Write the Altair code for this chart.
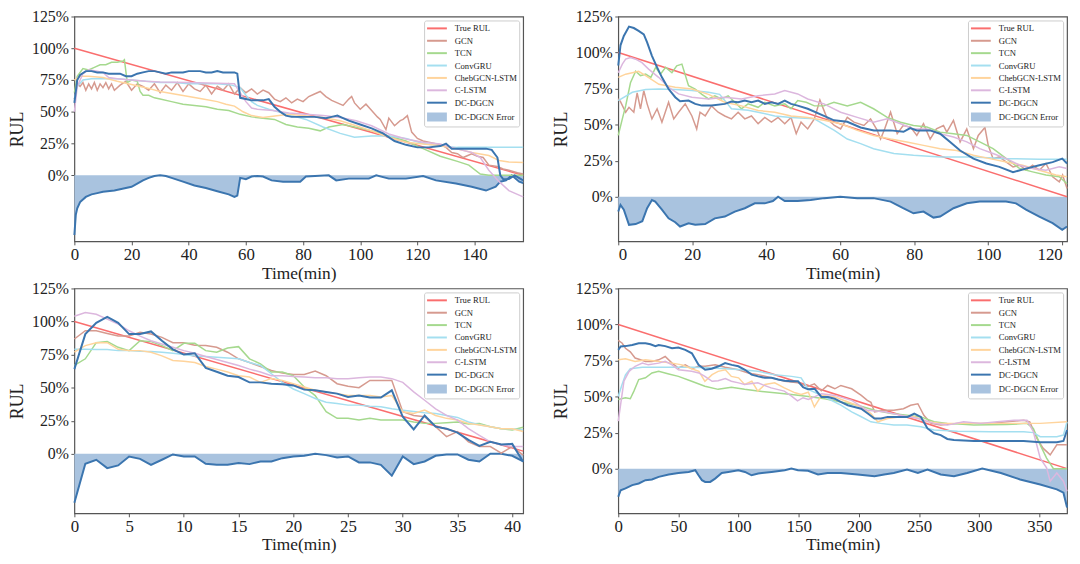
import altair as alt
import pandas as pd

SERIES = ["True RUL", "GCN", "TCN", "ConvGRU", "ChebGCN-LSTM", "C-LSTM", "DC-DGCN", "DC-DGCN Error"]
COLORS = ["#fa6e6e", "#d69a8f", "#a5d98e", "#a4dff0", "#ffd49c", "#dcb7de", "#3b75af", "#a9c3df"]
LINE_SYM = "M-2,0H2"
RECT_SYM = "M-2,-0.7H2M-2,-0.35H2M-2,0H2M-2,0.35H2M-2,0.7H2"
SHAPES = [LINE_SYM] * 7 + [RECT_SYM]
ERR_FILL = "#a9c3df"
DC_BLUE = "#3b75af"
FONT = "Liberation Serif"

# ---------------- Panel 1 ----------------
p1_true = [(0, 100), (157, 0)]
p1_gcn = [(0,60),(1,72),(2,70),(3,73),(4,67),(5,72),(6,68),(7,73),(8,67),(9,72),(10,69),(11,73),(12,68),(13,72),(14,67),(16,71),(18,74),(20,67),(22,72),(24,70),(26,67),(28,72),(30,65),(32,71),(34,67),(36,73),(38,66),(40,72),(42,68),(44,66),(46,71),(48,64),(50,70),(52,67),(54,72),(56,64),(58,69),(60,65),(62,68),(64,64),(66,67),(68,65),(70,60),(72,58),(74,61),(76,57),(78,60),(80,58),(82,62),(84,64),(86,66),(88,62),(90,59),(92,57),(94,55),(96,60),(97,62),(98,57),(100,52),(102,56),(104,51),(106,46),(107,44),(109,36),(110,45),(112,39),(114,43),(115,44),(116.5,47),(118,34),(120,29),(122,27),(124,26),(126,25),(128,24),(130,22),(132,18),(134,17),(136,14),(139,17),(141,15),(143,14),(145,8),(148,7),(150,5),(152,4),(155,2),(157,1)]
p1_tcn = [(0,65),(1,78),(3,84),(5,83),(7,85),(9,87),(11,87),(13,89),(15,89),(17,90),(17.5,91),(18.5,73),(20,75),(22,74),(23,66),(24,63),(26,63),(28,61),(30,60),(34,58),(38,56),(42,55),(46,54),(50,52),(54,51),(58,48),(62,46),(66,45),(70,44),(74,40),(78,38),(82,37),(86,35),(89,38),(94,40),(98,38),(104,35),(110,31),(116,27),(122,21),(128,15),(134,11),(138,8),(142,1),(145,0),(157,0)]
p1_convgru = [(0,60),(1,70),(3,75),(6,76),(10,76),(15,76),(20,75),(25,74),(30,73),(35,73),(40,72),(45,72),(50,72),(55,71),(58,69),(60,63),(62,58),(64,55),(68,52),(73,49),(81,44),(87,38),(93,33),(98,30),(104,31),(110,31),(116,29),(122,25),(128,23),(134,22),(157,22)]
p1_cheb = [(0,75),(2,78),(5,78),(10,77),(15,74),(20,71.5),(25,69),(30,66),(35,64),(40,62),(45,60),(50,58),(53,56),(56,54.5),(59,50),(62,47),(66,45.5),(75,48),(87,45.5),(93,43),(98.6,39),(104,35),(110,30),(116,26),(122,24.7),(127.7,23.4),(133.5,21),(139,18),(145,15.6),(148.6,11.7),(152,10.4),(157,10)]
p1_clstm = [(0,50),(1,70),(3,80),(5,83),(8,82),(10,81),(12,77),(15,76),(20,75),(25,74),(30,73.5),(40,73),(50,72.5),(56,72),(58,65),(60,58),(62,53),(64,52),(69.5,51),(75,49),(87,47),(93,45.5),(98.6,43),(104,39),(110,32.5),(116,28.6),(122,26),(128,24.7),(133.5,21),(139,18),(142,14),(145,4),(148.6,-5),(152,-12),(157,-17)]
p1_dc = [(0,57),(1,75),(2,79),(4,82),(6,82),(8,81),(10,81),(12,80),(14,80),(16,80),(18,78),(20,78),(22,80),(24,81),(26,82),(28,82),(30,81),(32,80),(34,81),(36,81),(38,81),(40,82),(42,82),(44,82),(46,81),(48,81),(50,82),(52,81),(54,81),(56,81),(57,80),(58,61),(60,60),(62,59),(64,59),(66,59),(68,60),(70,54),(72,50),(74,47),(76,46),(80,46),(84,46),(88,45),(90,46),(92,47),(94,45),(96,43),(100,40),(104,37),(108,33),(112,27),(116,24),(120,22),(124,22),(128,23),(130,25),(132,21),(136,21),(140,21),(144,21),(146,20),(148,14),(149,0),(150,-3),(152,-3),(154,0),(155.5,-2),(157,-4)]
p1_err = [(0,-47),(0.5,-31),(1,-26),(2,-21),(4,-17),(6,-15),(8,-14),(10,-13),(14,-12),(18,-10),(20,-9),(22,-6.5),(24,-4),(26,-2),(28,-0.5),(30,0),(32,-0.5),(34,-2),(38,-5),(42,-8),(46,-10),(50,-12.5),(54,-15),(56,-17),(57,-16),(58,-2),(60,-3),(62,-1),(64,-0.5),(66,-1),(69,-4),(73,-5),(79,-5),(81,-1),(89,0),(91.6,-4),(96,-2.6),(103,-2.6),(105.6,0),(110,-2.6),(116,-2.6),(122,-0.5),(126.5,-4),(133.5,-6.5),(139,-9),(144,-12),(147.4,-9),(149,-5),(151,-4),(153,0),(155.6,-5),(157,-6)]

# ---------------- Panel 2 ----------------
p2_true = [(0, 100), (121.3, 0)]
p2_gcn = [(0,68),(0.6,66),(2,58.6),(2.9,62),(4.2,58.6),(5.1,72),(6,61),(6.9,73.6),(7.8,64.4),(9.1,54),(10.5,61),(11.8,51.7),(13.6,65.5),(15,54),(16.3,58.6),(18.1,64.4),(19.9,56),(21.2,47),(22.1,58.6),(23.5,56),(25.2,63),(27,58.6),(28.8,56),(30.6,54),(32.4,58.6),(34.2,54),(36,56),(37.8,50.6),(39.6,55),(41.4,51.7),(43.2,55),(45,50.6),(46.7,55),(48.1,43.7),(49.4,51.7),(51.2,47),(53,54),(54.5,67),(56.5,54),(58.4,49.4),(60.1,47),(61.9,55),(63.7,51.7),(66.4,49.4),(68.2,54),(70,46),(70.9,40),(72,47),(73.6,58.6),(75.4,43.7),(77,49.4),(79,48.3),(80.7,42.5),(82.5,50.6),(84.3,40),(86,47),(87.9,49.4),(88.8,44.8),(90.6,52.9),(92.4,38),(94.2,47),(96,33.3),(97.3,42.5),(99.1,48),(100,35.6),(101.3,26.4),(103,27.6),(104.9,24),(106.7,20.7),(108.5,21.8),(110.2,18.4),(112,21.8),(113.8,18.4),(115.6,23),(117.4,13.8),(119.2,10.3),(120.1,15),(121.3,5.7)]
p2_tcn = [(0,42.5),(1.1,54),(2,63),(3.3,79),(4.7,87),(6,84),(7.4,85),(8.8,82.8),(10.1,89.7),(11.4,85),(12.8,89.7),(14.5,86),(15.8,90.8),(17.2,92),(19,77),(20.8,74.7),(22.6,71),(24.4,67.8),(26.1,70),(27.9,67.8),(29.7,70),(31.5,65.5),(33.3,61),(35.1,64.4),(37.8,62),(39.6,65.5),(42.3,63),(45,64.4),(46.7,61),(48.5,66.7),(50.8,65.5),(53,63),(55.6,63),(58.3,65.5),(61.9,63),(65.5,65.5),(69,61),(72.7,55),(76.3,51.7),(79.8,49.4),(83.4,48.3),(87,44.8),(90.6,43.7),(94.2,42.5),(97.7,38),(101.3,33.3),(104.9,26.4),(108.5,19.5),(112,17.2),(115.6,15),(119.2,13.8),(121.3,9)]
p2_convgru = [(0,66.7),(3.8,72.4),(7.4,74.3),(11,74.7),(15.4,74.3),(19.9,73.6),(24.4,72.4),(27.4,71),(29,66),(30.6,61),(35.1,60),(37.8,58.6),(42.3,56),(46.7,55),(53,54),(55,51),(58.4,46),(61.9,40),(65.5,36.8),(69,33.3),(74.5,30),(79.8,28.7),(87,27.6),(96,27.6),(104.9,26.4),(113.8,26),(121.3,26)]
p2_cheb = [(0,82.8),(2,85),(3.8,86),(5.5,87),(7.4,84),(11,78),(15.4,75.9),(19.9,74.7),(24.4,71),(28.8,65.5),(33.3,63),(37.8,59.8),(42.3,58.6),(46.7,56),(51.2,55),(55.6,53),(60.1,50.6),(64.6,46),(69,42.5),(73.6,40),(78,38),(82.5,35.6),(87,33.3),(91.5,32),(96,28.7),(100.4,26.4),(104.9,24),(109.3,21.8),(113.8,18.4),(118.3,15),(121.3,13.8)]
p2_clstm = [(0,86),(1.1,92),(2,95.4),(3.3,96.6),(4.7,95.4),(6.4,93),(8.2,88.5),(10.9,82.8),(13.6,75.9),(16.3,71.3),(19.9,69),(24.4,67.8),(28.8,69),(33.3,67.8),(37.8,70),(42.3,71.3),(45,73.6),(48.5,71.3),(51.2,67.8),(55.6,64.4),(60.1,58.6),(64.6,55),(69,51.7),(72.7,54),(76.3,50.6),(79.8,47),(83.4,47),(87,43.7),(90.6,41.4),(94.2,38),(97.7,33.3),(101.3,30),(104.9,26.4),(108.5,21.8),(112,19.5),(115.6,18.4),(119.2,20.7),(121.3,19.5)]
p2_dc = [(0,91),(0.6,105),(1.5,111.5),(2.9,118),(4.2,117),(5.5,115),(6.9,112.6),(7.8,107),(9.1,97.7),(10.5,89.7),(11.8,82.8),(13.6,74.7),(15.4,69),(16.7,66.2),(19,66.7),(20.8,64.4),(22.6,63.2),(25.2,63.2),(28.8,64.4),(30.6,66),(32.4,65.5),(34.2,66.7),(36,65.5),(37.8,66.7),(39.6,64.4),(41.4,65.5),(43.2,64.4),(45,66.7),(46.7,64.4),(48.5,63.2),(51.2,61),(55.6,56),(58.3,53),(61.9,52),(65.5,48),(69.1,46),(73.6,46),(77.1,45),(78.9,47.6),(80.7,46),(84.3,46),(87,43.7),(89.7,38),(92.4,32),(96,26.4),(99.5,23),(103,20.7),(106.7,17),(110.2,19.5),(113.8,21.8),(117.4,24),(120,26.4),(121.3,23)]
p2_err = [(0,-10.3),(0.6,-5.7),(1.5,-9),(2.9,-19.5),(4.7,-19),(6.5,-17),(7.8,-8),(9.1,-2.3),(10,-3.4),(11.8,-9),(13.6,-15),(15.4,-17.7),(16.7,-20.7),(19,-18.4),(20.8,-19.5),(23.5,-19),(26.1,-15),(28.8,-13.8),(31.5,-10.3),(34.2,-8),(36.9,-4.6),(39.6,-4.6),(41.8,-3),(43.2,0),(45,-3),(48.5,-3),(52,-2.3),(55.7,-1),(60,0),(64.6,-1),(69,-1),(73.6,-3.4),(77,-8),(79.8,-11.5),(82.5,-10.3),(85.2,-14.5),(87,-13.8),(90.6,-8),(94.2,-4.6),(97.7,-3.4),(101.3,-3.4),(104.8,-3.4),(107.5,-4.6),(110.2,-9),(113.8,-13.8),(117.4,-18.4),(120,-23),(121.3,-20.7)]

# ---------------- Panel 3 (one value per minute, 0..41) ----------------
p3_t = list(range(42))
p3_true = [(0, 100), (41, 2)]
p3_gcn_v = [86.8,93,93,91,89,89,91.8,90.5,88,84,84,82,81.8,80.5,76.8,71.8,69,66,63,61,60,60,62.5,59,53,51,50,55.5,55.5,55.5,31.8,29,28,20.5,13,16.8,9,5.5,5.5,0.5,5.5,-1]
p3_tcn_v = [66.8,71.8,84,84.8,80.5,78,85.5,84.8,81.8,78,83.5,83.5,78,76.8,80,81,71.8,68,61.8,61.8,59,50.5,44,31.8,26.8,26.8,25.5,26.8,25.5,25.5,25.5,24,23,23,23.5,24,22.5,23,20.5,19,18,20]
p3_convgru_v = [79,79,78.8,78.8,78,78,77.5,77.3,76.8,76,75,74,73.5,73,72.5,71.8,69,66.8,60.5,54,49,45.5,41.8,39,38,36.8,36.8,36,35.5,34,33,32,31,30.5,29,27.5,24,22,20.5,19,18.8,18]
p3_cheb_v = [76.8,81.8,84,84,79,78,78,76.8,74,70.5,70,69,66,64,61.8,59,58,54,57,55.5,53,50.5,48,46.8,45.5,44,44,44,43,44,31.8,30.5,33,29,26.8,25.5,23,21.8,20.5,19,19,16.8]
p3_clstm_v = [104,106.8,105.5,101.8,98,93,89,85.5,83,80.5,78,76,73.5,71.3,69,66.8,64,61.8,59,59,58.5,58,57.5,57.5,56.8,56.8,57.5,58,58,56.8,54,46.8,40.5,34,29,25.5,19,14,9,6.8,5.5,5.5]
p3_dc_v = [64,90.5,99,103.5,99,90.5,90.5,92.5,85.5,79,75,76,65,62,59,58,54,54,53,52.5,51.7,48.5,48,46.7,45.5,43,44,42.5,42.5,48,28,18.5,29,20.5,19,16,10.5,6,9,7,7.5,-6]
p3_err_v = [-37,-7.5,-4.5,-10.8,-8.8,-2,-3.8,-8.3,-4.5,-0.5,-2,-2,-7.5,-8.3,-8.3,-7,-7.8,-5.8,-5.8,-3.3,-2,-1.5,0,-1,-2.8,-2,-6.5,-6.5,-8.3,-16.5,-2,-7.8,-5.8,-1.5,-0.5,-0.5,-4.5,-5.8,0,0,-1.5,-5.8]

# ---------------- Panel 4 ----------------
p4_true = [(0, 100), (373, 0)]
p4_gcn = [(0,89),(3.3,87),(6,83.5),(10,81),(14,76.7),(18.5,75.5),(22.6,74.4),(28,74.4),(33.6,75.5),(39,77.8),(44.7,73.2),(50,69.8),(55.7,72),(61.2,69.3),(66.7,71),(72.2,71),(80.5,72),(88.8,70.3),(99.8,68.6),(108,66.4),(116.3,65.2),(127.4,63),(138.4,60.6),(149.4,59.5),(157.7,57),(163,58.8),(168.8,54),(174,57.7),(180,55.4),(185,57.7),(194,55.4),(202,50.8),(207,47.4),(210,46),(213,39.4),(221,40.5),(229,40.5),(237,41.6),(243,44),(249,45),(254,37),(260,31.4),(268,30.2),(282,31.4),(296,31.4),(309,31.4),(323,32.5),(337,33.6),(342,32.5),(348,21),(353,14.2),(359,9.6),(364.5,16.5),(373,16.5)]
p4_tcn = [(0,48),(6,49.2),(10,48.5),(13,53.8),(17,61.8),(22.6,63),(28,66.4),(33.6,67.5),(42,65.7),(50,64),(61,60.6),(72,57.2),(83,55),(94,56.5),(105,55),(116,53.8),(130,52.6),(144,51.5),(158,50),(171.6,48.5),(185,46.2),(199,44),(213,40.5),(227,38.2),(240,37),(251.5,35.9),(262.5,32.5),(273.5,31.4),(295.6,30.2),(323,30.6),(339.7,31.4),(345,27.9),(350.7,16.5),(356,7.3),(361.7,0),(373,0)]
p4_convgru = [(0,50),(3,58),(6,65),(10,69.3),(20,70.3),(40,70.3),(61,70.3),(75,70),(89,69.3),(102.6,68.6),(116,67.5),(130,65.2),(144,64),(152,63),(158,55),(171.6,49.7),(185,44),(194,39.4),(202,36),(210,32.5),(218,31.4),(229,30.2),(240,30.2),(251.5,29),(262.5,26.8),(282,26),(309,25.6),(337,25.6),(345,25),(350.7,22.2),(364.5,22.2),(370,23.3),(373,32.5)]
p4_cheb = [(0,75.5),(6,76.2),(14,74.4),(22.6,75.5),(33.6,74.4),(44.7,73.2),(53,72),(61,69.3),(67,67.5),(72,60.6),(78,65.2),(83,67.5),(89,68.6),(94,64),(100,63),(105,58.4),(111,60.6),(116,53.8),(122,58.4),(130,59.5),(138,56),(147,52.6),(152,51.5),(158,53),(163,42.8),(169,50.8),(180,49.7),(191,46.2),(202,42.8),(210,38.2),(215.6,32.5),(224,34.8),(235,36),(246,36),(257,32.5),(268,31.4),(282,31.4),(296,31.4),(323,31.4),(350.7,31.4),(373,32.5)]
p4_clstm = [(0,33),(4.7,60.6),(9,67.5),(14,71),(20,73.2),(25,72),(33.6,73.2),(39,74.4),(44.7,72),(50,68.6),(61,67.5),(67,66.4),(72,64),(78,60.6),(83,61),(89,62.5),(94,60.6),(100,59.5),(105,58.4),(116,59.5),(127,56),(138,53.8),(144,50.3),(149,47),(153.6,49.2),(158,48),(169,52),(180,50.8),(194,47.4),(207,40.5),(221,39.4),(235,37),(249,34.8),(262.5,31.4),(273.5,30.2),(287,32.5),(301,31.4),(315,32.5),(329,33.6),(339.7,33.6),(345,25.6),(350.7,7.3),(356,0.5),(359,-8.7),(364.5,-3),(370,-8.7),(373,-15.6)]
p4_dc = [(0,82.4),(2,84.7),(6,85),(11.6,85.8),(17,87),(22.6,87),(26.7,86.3),(30.9,85),(33.6,85.8),(39,85),(44.7,83.5),(50,84),(55.7,82.4),(61.2,80),(66.7,72),(72.2,68.6),(77.7,69.3),(83.3,71),(88.8,73.2),(94.3,72),(99.8,71),(105.3,68.6),(110.8,65.2),(116.3,64),(121.9,63),(127.4,63),(132.9,61.8),(138.4,61),(143.9,60.6),(149.4,60.6),(153.6,56.5),(157.7,55),(163.3,55.4),(168.8,49.7),(174.3,49.7),(179.8,48.5),(185.3,46.2),(190.8,44),(196.3,42.8),(201.9,41.6),(207.4,38.2),(212.9,34.8),(218.4,34.8),(223.9,35.9),(229.4,35.9),(234.9,35.9),(240.5,35.9),(246,38.2),(251.5,35.9),(257,27.9),(262.5,24.5),(268,23.3),(273.5,20.6),(279,19.9),(295.6,19.2),(323.1,19.2),(336.9,19.2),(350.7,18.3),(364.5,18.3),(370,19.2),(373,26.8)]
p4_err = [(0,-19.5),(2,-15),(6,-13.7),(11.6,-11.4),(17,-10.3),(22.6,-8),(28,-7.5),(33.6,-5.7),(41.9,-4.1),(50,-3),(58.5,-2.3),(64,-1.1),(66.7,-4.6),(69.5,-8),(72.2,-9.2),(76.4,-9.2),(80.5,-6.9),(86,-3),(91.5,-2.3),(99.8,-1.1),(105.3,-2.3),(110.8,-4.6),(116.3,-3.4),(127.4,-2.3),(138.4,-1.1),(143.9,0),(149.4,-1.1),(157.7,-1.5),(166,-4),(174,-3),(185,-3),(199,-4),(213,-5.3),(221,-4),(229,-3),(240,-0.7),(249,-3),(257,-0.7),(268,-4),(279,-5.3),(290,-3),(302.5,0),(318,-3),(334,-7.5),(350.7,-11),(364.5,-14.4),(370,-16.7),(373,-27)]

Y_TICKS = [0, 25, 50, 75, 100, 125]


def long_frame(named):
    rows = []
    for name, pts in named:
        for t, v in pts:
            rows.append({"t": t, "v": v, "s": name})
    return pd.DataFrame(rows)


def panel(named, err, tmax, ymin, xticks, flush=False):
    df = long_frame(named)
    edf = pd.DataFrame(err, columns=["t", "v"])
    xaxis = alt.Axis(values=xticks, title="Time(min)", labelFlush=6) if flush else \
        alt.Axis(values=xticks, title="Time(min)", labelFlush=False)
    x = alt.X("t:Q", scale=alt.Scale(domain=[0, tmax], nice=False, zero=False), axis=xaxis)
    y = alt.Y("v:Q", scale=alt.Scale(domain=[ymin, 125], nice=False, zero=False),
              axis=alt.Axis(values=Y_TICKS, labelExpr="datum.value + '%'", title="RUL"))
    color = alt.Color("s:N", scale=alt.Scale(domain=SERIES, range=COLORS), title=None)
    shape = alt.Shape("s:N", scale=alt.Scale(domain=SERIES, range=SHAPES), title=None)
    area = alt.Chart(edf).mark_area(color=ERR_FILL, opacity=1).encode(x=x, y=y, y2=alt.datum(0))
    eline = alt.Chart(edf).mark_line(color=DC_BLUE, strokeWidth=2).encode(x=x, y=y)
    thin = alt.Chart(df[df.s != "DC-DGCN"]).mark_line(strokeWidth=1.5).encode(x=x, y=y, color=color)
    thick = alt.Chart(df[df.s == "DC-DGCN"]).mark_line(strokeWidth=2).encode(x=x, y=y, color=color)
    pts = alt.Chart(df).mark_point(filled=False, opacity=0, size=4).encode(x=x, y=y, color=color, shape=shape)
    return alt.layer(area, eline, thin, thick, pts).properties(width=453, height=227)


def zip_t(ts, vs):
    return list(zip(ts, vs))


panel1 = panel([("True RUL", p1_true), ("GCN", p1_gcn), ("TCN", p1_tcn), ("ConvGRU", p1_convgru),
                ("ChebGCN-LSTM", p1_cheb), ("C-LSTM", p1_clstm), ("DC-DGCN", p1_dc)],
               p1_err, 157, -52, [0, 20, 40, 60, 80, 100, 120, 140])
panel2 = panel([("True RUL", p2_true), ("GCN", p2_gcn), ("TCN", p2_tcn), ("ConvGRU", p2_convgru),
                ("ChebGCN-LSTM", p2_cheb), ("C-LSTM", p2_clstm), ("DC-DGCN", p2_dc)],
               p2_err, 121.3, -31, [0, 20, 40, 60, 80, 100, 120], flush=True)
panel3 = panel([("True RUL", p3_true), ("GCN", zip_t(p3_t, p3_gcn_v)), ("TCN", zip_t(p3_t, p3_tcn_v)),
                ("ConvGRU", zip_t(p3_t, p3_convgru_v)), ("ChebGCN-LSTM", zip_t(p3_t, p3_cheb_v)),
                ("C-LSTM", zip_t(p3_t, p3_clstm_v)), ("DC-DGCN", zip_t(p3_t, p3_dc_v))],
               zip_t(p3_t, p3_err_v), 41, -45, [0, 5, 10, 15, 20, 25, 30, 35, 40])
panel4 = panel([("True RUL", p4_true), ("GCN", p4_gcn), ("TCN", p4_tcn), ("ConvGRU", p4_convgru),
                ("ChebGCN-LSTM", p4_cheb), ("C-LSTM", p4_clstm), ("DC-DGCN", p4_dc)],
               p4_err, 373, -31, [0, 50, 100, 150, 200, 250, 300, 350])

chart = alt.concat(panel1, panel2, panel3, panel4, columns=2,
                   spacing=alt.RowColnumber(row=-3.5, column=24)).resolve_scale(
    color="independent", shape="independent"
).resolve_legend(
    color="independent", shape="independent"
).properties(
    padding={"left": 0, "top": -3, "right": 0, "bottom": 0}
).configure_view(
    stroke="#555555", strokeWidth=1.2
).configure_axis(
    labelFont=FONT, titleFont=FONT, labelColor="#222222", titleColor="#222222",
    grid=False, domain=False, tickColor="#555555", tickSize=3.5, labelPadding=2.5,
    titleFontWeight="normal", titleFontSize=18
).configure_axisX(
    labelFontSize=17, labelPadding=1.5, titlePadding=2, titleFontSize=17.5
).configure_axisY(
    labelFontSize=16, titlePadding=5
).configure_legend(
    orient="top-right", offset=4, padding=2, fillColor="white", strokeColor="#cccccc",
    cornerRadius=2, labelFont=FONT, labelFontSize=8.7, labelColor="#222222",
    symbolSize=100, symbolStrokeWidth=2, symbolOpacity=1, symbolOffset=5,
    labelOffset=12, rowPadding=1.5
)

chart.save("out.html", embed_options={"renderer": "svg", "actions": False})
